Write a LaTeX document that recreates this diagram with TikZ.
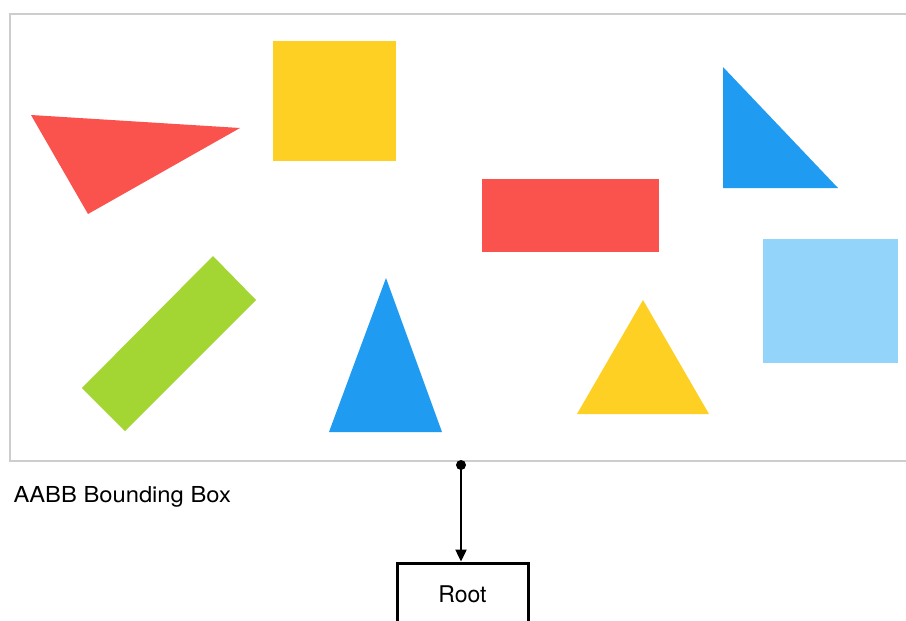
\documentclass[tikz,border=0pt]{standalone}
\usepackage{fontspec}
\setmainfont{TeX Gyre Heros}
\usetikzlibrary{arrows.meta}
\definecolor{shapeRed}{RGB}{250, 82, 77}
\definecolor{shapeYellow}{RGB}{253, 208, 35}
\definecolor{shapeBlue}{RGB}{31, 155, 242}
\definecolor{shapeLightBlue}{RGB}{147, 213, 250}
\definecolor{shapeGreen}{RGB}{163, 214, 50}
\definecolor{boxGray}{RGB}{205, 205, 205}

\begin{document}
\begin{tikzpicture}[x=1pt, y=-1pt,
    rootbox/.style={draw=black, line width=3pt, minimum width=131pt, minimum height=62pt,
      inner sep=0pt, font=\fontsize{23}{27}\selectfont},
    link/.style={line width=2.4pt, -{Triangle[length=12pt, width=11pt]}}]
      \useasboundingbox (0,0) rectangle (906,621);
      \clip (0,0) rectangle (906,621);
      \fill[white] (0,0) rectangle (906,621);

      % AABB of all shapes
      \draw[boxGray, line width=2.4pt] (10,14) rectangle (930,461);

      \fill[shapeRed] (31,115) -- (240,128) -- (88,214) -- cycle;
      \fill[shapeYellow] (273,41) rectangle (396,161);
      \fill[shapeRed] (482,179) rectangle (659,252);
      \fill[shapeBlue] (723,67) -- (723,188) -- (838,188) -- cycle;
      \fill[shapeLightBlue] (763,239) rectangle (898,363);
      \fill[shapeGreen] (213,256) -- (256,300) -- (125,431) -- (82,388) -- cycle;
      \fill[shapeBlue] (386,278) -- (442,432) -- (329,432) -- cycle;
      \fill[shapeYellow] (643,300) -- (709,414) -- (577,414) -- cycle;

      \node[anchor=west, font=\fontsize{22}{26}\selectfont] (aabbLabel) at (10,497)
        {\scalebox{1.08}[1]{AABB Bounding Box}};

      \coordinate (aabbBottom) at (461,465);
      \fill (aabbBottom) circle (5pt);
      \node[rootbox] (root) at (462.5,594) {Root};
      \draw[link] (aabbBottom) -- (root.north -| aabbBottom);
    \end{tikzpicture}
\end{document}
